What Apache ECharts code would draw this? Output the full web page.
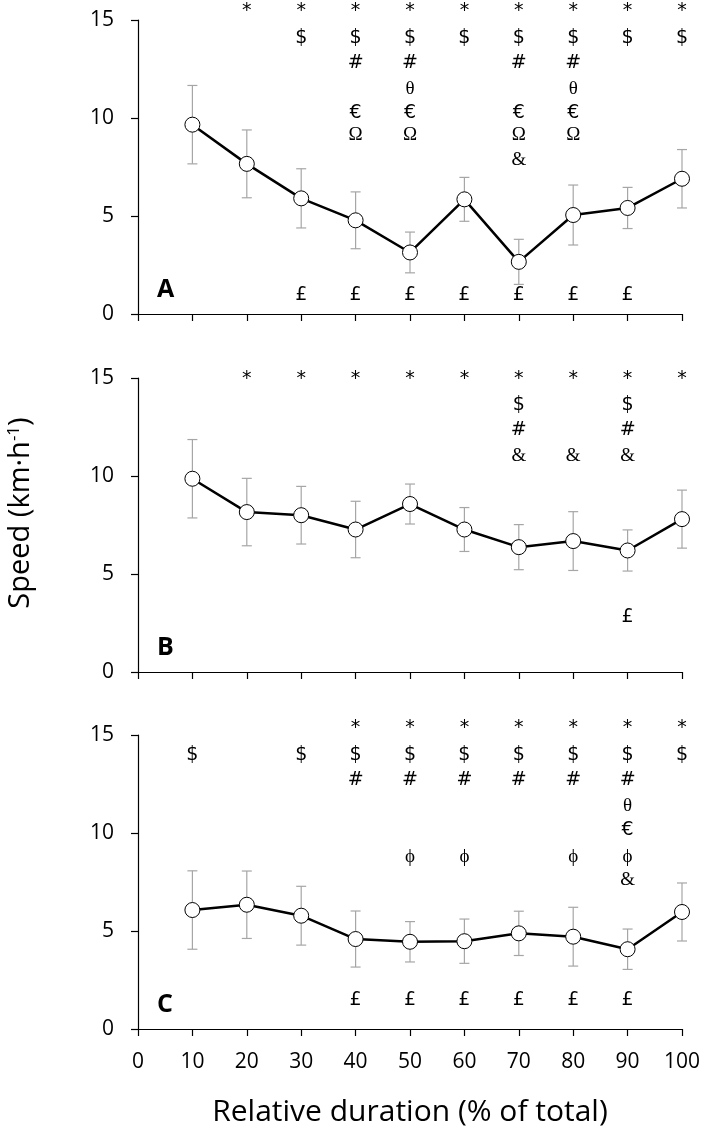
<!DOCTYPE html>
<html>
<head>
<meta charset="utf-8">
<script src="https://cdn.jsdelivr.net/npm/echarts@6/dist/echarts.min.js"></script>
<style>
  html, body { margin: 0; padding: 0; background: #fff; }
  #chart { width: 702px; height: 1133px; }
</style>
</head>
<body>
<div id="chart"></div>
<script>
// relative duration (% of total)
const durations = [10, 20, 30, 40, 50, 60, 70, 80, 90, 100]
const xTicks = [0, 10, 20, 30, 40, 50, 60, 70, 80, 90, 100]
const yTicks = [0, 5, 10, 15]

// mean speed and SD per panel (km/h)
const speedA = [9.66, 7.66, 5.9, 4.78, 3.14, 5.85, 2.66, 5.05, 5.41, 6.9]
const sdA = [2.0, 1.73, 1.51, 1.45, 1.04, 1.12, 1.15, 1.53, 1.05, 1.49]
const speedB = [9.86, 8.16, 8.0, 7.27, 8.57, 7.27, 6.37, 6.68, 6.2, 7.8]
const sdB = [2.0, 1.72, 1.47, 1.44, 1.02, 1.12, 1.15, 1.5, 1.05, 1.48]
const speedC = [6.07, 6.34, 5.78, 4.59, 4.45, 4.48, 4.88, 4.71, 4.07, 5.97]
const sdC = [2.0, 1.72, 1.5, 1.43, 1.03, 1.13, 1.13, 1.5, 1.03, 1.48]

// significance marks: symbol -> durations where it appears
const marksA = {
  '*': [20, 30, 40, 50, 60, 70, 80, 90, 100],
  '$': [30, 40, 50, 60, 70, 80, 90, 100],
  '#': [40, 50, 70, 80],
  'θ': [50, 80],
  '€': [40, 50, 70, 80],
  'Ω': [40, 50, 70, 80],
  '&': [70],
  '£': [30, 40, 50, 60, 70, 80, 90],
}
const marksB = {
  '*': [20, 30, 40, 50, 60, 70, 80, 90, 100],
  '$': [70, 90],
  '#': [70, 90],
  '&': [70, 80, 90],
  '£': [90],
}
const marksC = {
  '*': [40, 50, 60, 70, 80, 90, 100],
  '$': [10, 30, 40, 50, 60, 70, 80, 90, 100],
  '#': [40, 50, 60, 70, 80, 90],
  'θ': [90],
  '€': [90],
  'ϕ': [50, 60, 80, 90],
  '&': [90],
  '£': [40, 50, 60, 70, 80, 90],
}

// layout: y level (axis units) of each mark row
const rowsA = { '*': 15.45, '$': 14.1, '#': 12.8, 'θ': 11.5, '€': 10.25, 'Ω': 9.15, '&': 7.85, '£': 0.95 }
const rowsB = { '*': 14.95, '$': 13.6, '#': 12.35, '&': 11.0, '£': 2.8 }
const rowsC = { '*': 15.35, '$': 14.0, '#': 12.7, 'θ': 11.4, '€': 10.15, 'ϕ': 8.75, '&': 7.6, '£': 1.5 }

const serifMarks = ['θ', 'Ω', '&', 'ϕ']
const sansFont = '"Open Sans", "DejaVu Sans", sans-serif'

const panels = [
  { speed: speedA, sd: sdA, marks: marksA, rows: rowsA, top: 20, letter: 'A' },
  { speed: speedB, sd: sdB, marks: marksB, rows: rowsB, top: 378, letter: 'B' },
  { speed: speedC, sd: sdC, marks: marksC, rows: rowsC, top: 735, letter: 'C' },
]

const chart = echarts.init(document.getElementById('chart'))

const errorBars = (params, api) => {
  const x = api.value(0)
  const top = api.coord([x, api.value(1)])
  const bot = api.coord([x, api.value(2)])
  const cap = 5
  const style = { stroke: '#a6a6a6', lineWidth: 1.2 }
  return {
    type: 'group',
    children: [
      { type: 'line', shape: { x1: top[0], y1: top[1], x2: bot[0], y2: bot[1] }, style },
      { type: 'line', shape: { x1: top[0] - cap, y1: top[1], x2: top[0] + cap, y2: top[1] }, style },
      { type: 'line', shape: { x1: bot[0] - cap, y1: bot[1], x2: bot[0] + cap, y2: bot[1] }, style },
    ],
  }
}

const grid = []
const xAxis = []
const yAxis = []
const series = []
const graphic = []

panels.forEach((p, i) => {
  grid.push({ left: 138, right: 20, top: p.top, height: 294, outerBoundsMode: 'none' })

  xAxis.push({
    gridIndex: i,
    type: 'value',
    min: xTicks[0],
    max: xTicks[xTicks.length - 1],
    interval: 10,
    axisLine: { onZero: false, lineStyle: { color: '#000', width: 1.2 } },
    axisTick: { show: true, length: 7, lineStyle: { color: '#000', width: 1.2 } },
    axisLabel: {
      show: i === 2,
      color: '#000',
      fontSize: 21,
      fontFamily: sansFont,
      margin: 23,
    },
    splitLine: { show: false },
    name: i === 2 ? 'Relative duration (% of total)' : '',
    nameLocation: 'middle',
    nameGap: 68,
    nameTextStyle: { color: '#000', fontSize: 30, fontFamily: sansFont },
  })

  yAxis.push({
    gridIndex: i,
    type: 'value',
    min: yTicks[0],
    max: yTicks[yTicks.length - 1],
    interval: 5,
    axisLine: { show: true, lineStyle: { color: '#000', width: 1.2 } },
    axisTick: { show: true, length: 7, lineStyle: { color: '#000', width: 1.2 } },
    axisLabel: { color: '#000', fontSize: 21, fontFamily: sansFont, margin: 24 },
    splitLine: { show: false },
  })

  series.push({
    type: 'custom',
    xAxisIndex: i,
    yAxisIndex: i,
    renderItem: errorBars,
    silent: true,
    z: 1,
    data: durations.map((d, k) => [d, p.speed[k] + p.sd[k], p.speed[k] - p.sd[k]]),
  })

  series.push({
    type: 'line',
    xAxisIndex: i,
    yAxisIndex: i,
    symbol: 'circle',
    symbolSize: 15,
    z: 3,
    lineStyle: { color: '#000', width: 2.5 },
    itemStyle: { color: '#fff', borderColor: '#000', borderWidth: 1 },
    data: durations.map((d, k) => [d, p.speed[k]]),
  })

  Object.keys(p.marks).forEach((sym) => {
    series.push({
      type: 'scatter',
      xAxisIndex: i,
      yAxisIndex: i,
      symbolSize: 1,
      itemStyle: { color: 'rgba(0,0,0,0)', opacity: 1 },
      clip: false,
      silent: true,
      z: 4,
      label: {
        show: true,
        position: 'inside',
        formatter: sym,
        color: '#000',
        fontSize: 19,
        fontFamily: serifMarks.includes(sym) ? '"Liberation Serif", serif' : '"DejaVu Sans", sans-serif',
      },
      data: p.marks[sym].map((d) => [d, p.rows[sym]]),
    })
  })

  graphic.push({
    type: 'text',
    left: 157,
    top: p.top + 257,
    style: { text: p.letter, fill: '#000', font: 'bold 25px "Open Sans", sans-serif' },
  })
})

graphic.push({
  type: 'text',
  x: 21,
  y: 513,
  rotation: Math.PI / 2,
  style: {
    text: '{a|Speed (km·h}{b|-1}{a|)}',
    align: 'center',
    verticalAlign: 'middle',
    rich: {
      a: { fontSize: 29, fontFamily: sansFont, fill: '#000', lineHeight: 36 },
      b: { fontSize: 17, fontFamily: sansFont, fill: '#000', lineHeight: 36, padding: [0, 0, 14, 0] },
    },
  },
})

const option = {
  animation: false,
  grid,
  xAxis,
  yAxis,
  series,
  graphic,
}

chart.setOption(option)
</script>
</body>
</html>
